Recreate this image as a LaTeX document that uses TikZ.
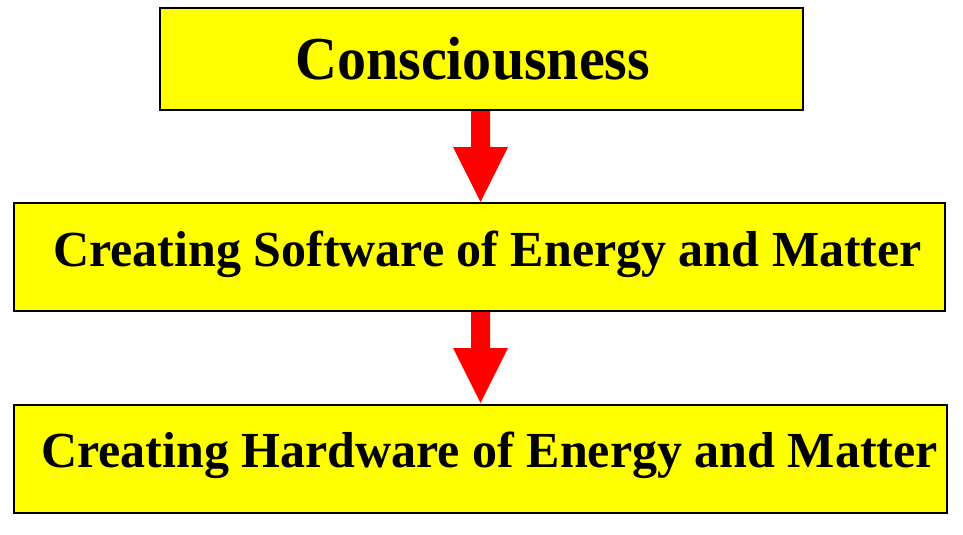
\documentclass[tikz,border=0pt]{standalone}
\usepackage{fontspec}
\setmainfont{Liberation Serif}
\definecolor{boxyellow}{RGB}{255,255,0}
\definecolor{arrowred}{RGB}{255,0,0}
\begin{document}
\begin{tikzpicture}[x=1pt,y=-1pt,
  box/.style={draw=black,line width=2pt,fill=boxyellow},
  blockarrow/.style={fill=arrowred,draw=none},
  lbl/.style={anchor=base west,inner sep=0pt}]
\useasboundingbox (0,0) rectangle (963,535);
\fill[white] (0,0) rectangle (963,535);
\draw[box] (160,8) rectangle (803,110);
\node[lbl,font=\bfseries\fontsize{61}{61}\selectfont] (t1) at (295,79) {\scalebox{0.952}[1]{Consciousness}};
\draw[box] (14,203) rectangle (945,311);
\node[lbl,font=\bfseries\fontsize{50.5}{50.5}\selectfont] (t2) at (53,266) {\scalebox{0.99}[1]{Creating Software of Energy and Matter}};
\draw[box] (14,405) rectangle (947,513);
\node[lbl,font=\bfseries\fontsize{50.5}{50.5}\selectfont] (t3) at (41,467) {\scalebox{0.99}[1]{Creating Hardware of Energy and Matter}};
\fill[blockarrow] (471,111) -- (490,111) -- (490,147) -- (508,147) -- (480.5,202) -- (453,147) -- (471,147) -- cycle;
\fill[blockarrow] (471,312) -- (490,312) -- (490,348) -- (508,348) -- (480.5,403) -- (453,348) -- (471,348) -- cycle;
\end{tikzpicture}
\end{document}
